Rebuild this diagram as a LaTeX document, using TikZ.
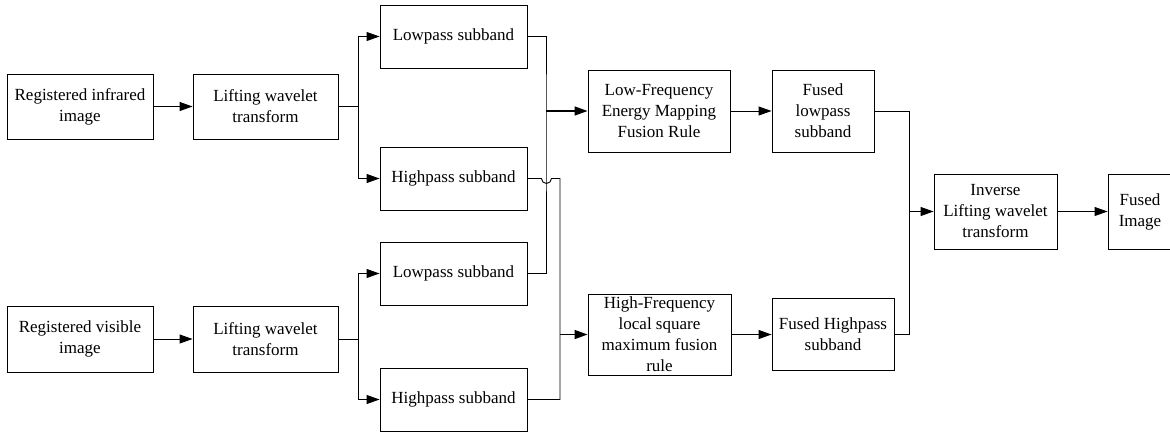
\documentclass[tikz,border=0pt]{standalone}
\usepackage{fontspec}
\setmainfont{Liberation Serif}
\usetikzlibrary{arrows.meta}
\begin{document}
\begin{tikzpicture}[x=1pt,y=-1pt,
  box/.style={draw, line width=0.9pt, inner sep=0pt, align=center, font=\fontsize{17}{21}\selectfont},
  wire/.style={line width=0.9pt},
  arr/.style={line width=0.9pt, -{Triangle[length=13pt,width=9pt]}},
  boldarr/.style={line width=1.5pt, -{Triangle[length=13pt,width=9pt]}}]
\useasboundingbox (0,0) rectangle (1170,432);
% nodes
\node[box, minimum width=146, minimum height=65] (ri) at (80,106.5) {Registered infrared\\image};
\node[box, minimum width=145, minimum height=65] (lift1) at (265.5,106.5) {Lifting wavelet\\transform};
\node[box, minimum width=147, minimum height=63] (lp1) at (453.5,36.5) {Lowpass subband};
\node[box, minimum width=147, minimum height=63] (hp1) at (453.5,178.5) {Highpass subband};
\node[box, minimum width=147, minimum height=63] (lp2) at (453.5,273.5) {Lowpass subband};
\node[box, minimum width=147, minimum height=63] (hp2) at (453.5,399.5) {Highpass subband};
\node[box, minimum width=146, minimum height=66] (rv) at (80,339) {Registered visible\\image};
\node[box, minimum width=145, minimum height=66] (lift2) at (265.5,339) {Lifting wavelet\\transform};
\node[box, minimum width=142, minimum height=82] (lf) at (659,111) {Low-Frequency\\Energy Mapping\\Fusion Rule};
\node[box, minimum width=143, minimum height=81] (hf) at (659.5,334.5) {High-Frequency\\local square\\maximum fusion\\rule};
\node[box, minimum width=102, minimum height=82] (fl) at (823,111) {Fused\\lowpass\\subband};
\node[box, minimum width=122, minimum height=72] (fh) at (833,334.5) {Fused Highpass\\subband};
\node[box, minimum width=123, minimum height=75] (inv) at (995.5,211.5) {Inverse\\Lifting wavelet\\transform};
\node[box, minimum width=64, minimum height=75] (fi) at (1140,211.5) {Fused\\Image};
% junction points
\coordinate (j1) at (358,106.5);
\coordinate (j2) at (358,339);
\coordinate (m1) at (546,111);
\coordinate (m2) at (560,334.5);
\coordinate (m3) at (909,211.5);
% connectors
\draw[arr] (ri) -- (lift1);
\draw[arr] (rv) -- (lift2);
\draw[wire] (lift1) -- (j1);
\draw[arr] (j1) |- (lp1.west);
\draw[arr] (j1) |- (hp1.west);
\draw[wire] (lift2) -- (j2);
\draw[arr] (j2) |- (lp2.west);
\draw[arr] (j2) |- (hp2.west);
\draw[wire] (lp1.east) -| (m1) |- (lp2.east);
\draw[wire] (hp1.east) -- ++(14,0) arc[start angle=180,end angle=0,radius=5] -| (m2) |- (hp2.east);
\draw[boldarr] (m1) -- (lf.west);
\draw[boldarr] (m2) -- (hf.west);
\draw[arr] (lf) -- (fl);
\draw[arr] (hf.east) -- (fh.west);
\draw[wire] (fl.east) -| (m3) |- (fh.east);
\draw[arr] (m3) -- (inv.west);
\draw[arr] (inv) -- (fi);
\end{tikzpicture}
\end{document}
